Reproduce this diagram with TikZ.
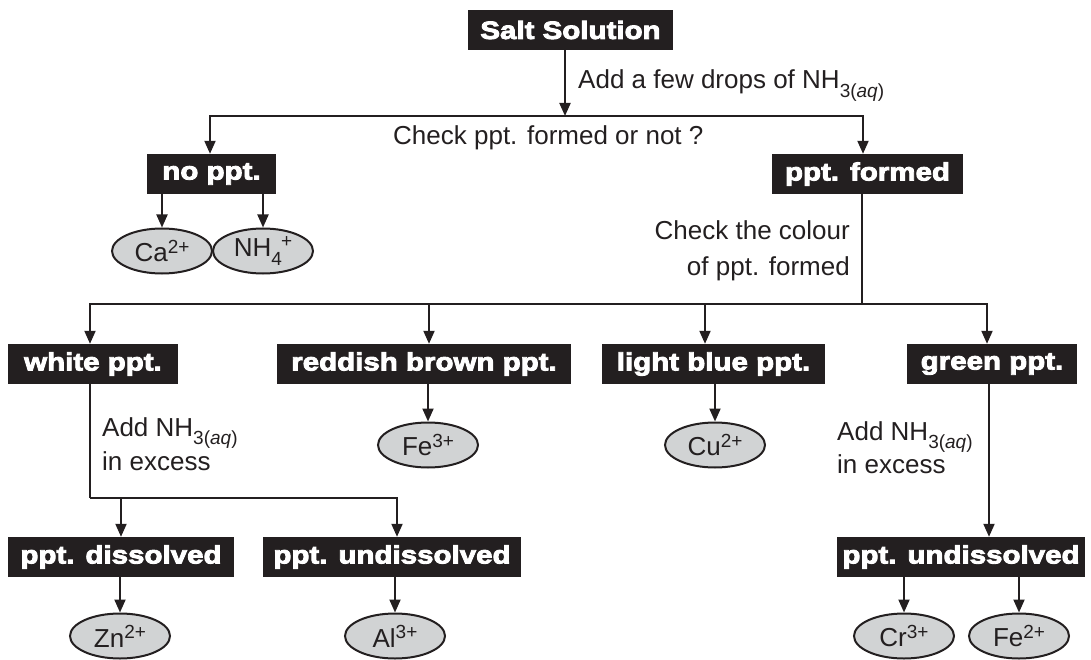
\documentclass[tikz,border=0pt]{standalone}
\usepackage{fontspec}
\setmainfont{Liberation Sans}
\newfontfamily\blackfont{Liberation Sans Bold}[FakeBold=3.5,FakeStretch=1.18]
\usetikzlibrary{arrows.meta,shapes.geometric}
\definecolor{ink}{HTML}{231F20}
\definecolor{ionfill}{HTML}{D1D3D4}
\newcommand\supx[1]{\raisebox{0.34em}{\fontsize{19}{19}\selectfont #1}}
\newcommand\subx[1]{\raisebox{-0.32em}{\fontsize{19}{19}\selectfont #1}}
\begin{document}
\begin{tikzpicture}[x=1pt,y=-1pt,
  every node/.style={text=ink},
  box/.style={fill=ink,text=white,minimum height=40pt,inner sep=0pt,
    font=\blackfont\fontsize{25}{30}\selectfont},
  ion/.style={ellipse,draw=ink,line width=2pt,fill=ionfill,minimum width=100pt,
    minimum height=45pt,inner sep=0pt,font=\fontsize{26}{30}\selectfont},
  lbl/.style={inner sep=0pt,font=\fontsize{26}{30}\selectfont},
  conn/.style={draw=ink,line width=2pt},
  arr/.style={conn,-{Triangle[width=11pt,length=13pt]}}]
\useasboundingbox (0,0) rectangle (1091,660);
% boxes
\node[box,minimum width=205pt] (salt) at (570.5,30) {Salt Solution};
\node[box,minimum width=129pt] (noppt) at (211.5,174) {no ppt.};
\node[box,minimum width=191pt] (formed) at (867.5,174) {ppt. formed};
\node[box,minimum width=170pt] (white) at (93,364) {white ppt.};
\node[box,minimum width=294pt] (reddish) at (424,364) {reddish brown ppt.};
\node[box,minimum width=223pt] (lblue) at (713.5,364) {light blue ppt.};
\node[box,minimum width=170pt] (green) at (992,364) {green ppt.};
\node[box,minimum width=226pt] (dissolved) at (121,557) {ppt. dissolved};
\node[box,minimum width=258pt] (undisA) at (392,557) {ppt. undissolved};
\node[box,minimum width=248pt] (undisB) at (961,557) {ppt. undissolved};
% ions
\node[ion] (ca) at (162,251) {Ca\supx{2+}};
\node[ion] (nh) at (263,251) {NH\subx{4}\kern-1pt\supx{+}};
\node[ion] (fe3) at (428,445) {Fe\supx{3+}};
\node[ion] (cu) at (715,445) {Cu\supx{2+}};
\node[ion] (zn) at (120,636) {Zn\supx{2+}};
\node[ion] (al) at (395,636) {Al\supx{3+}};
\node[ion] (cr) at (904,636) {Cr\supx{3+}};
\node[ion] (fe2) at (1019,636) {Fe\supx{2+}};
% labels
\node[lbl,anchor=base west] (t1) at (578,89) {Add a few drops of NH\subx{3(\textit{aq})}};
\node[lbl,anchor=base west] (t2) at (393,145) {Check ppt. formed or not ?};
\node[lbl,anchor=base east] (t3) at (850,240) {Check the colour};
\node[lbl,anchor=base east] (t4) at (850,275) {of ppt. formed};
\node[lbl,anchor=base west] (t5) at (102,436) {Add NH\subx{3(\textit{aq})}};
\node[lbl,anchor=base west] (t6) at (102,470) {in excess};
\node[lbl,anchor=base west] (t7) at (837,440) {Add NH\subx{3(\textit{aq})}};
\node[lbl,anchor=base west] (t8) at (837,473) {in excess};
% junctions
\coordinate (j1) at (565,116);
\coordinate (j2) at (862,304);
\coordinate (j3) at (90,498);
% connectors
\draw[arr] (salt.south -| j1) -- (j1);
\draw[arr] (j1) -| ([xshift=-1.5pt]noppt.north);
\draw[arr] (j1) -| ([xshift=-4.5pt]formed.north);
\draw[arr] ([xshift=-49.5pt]noppt.south) -- (ca.north);
\draw[arr] ([xshift=51.5pt]noppt.south) -- (nh.north);
\draw[conn] (formed.south -| j2) -- (j2);
\draw[arr] (j2) -| ([xshift=-3pt]white.north);
\draw[arr] (j2) -| ([xshift=5pt]reddish.north);
\draw[arr] (j2) -| ([xshift=-8.5pt]lblue.north);
\draw[arr] (j2) -| ([xshift=-5pt]green.north);
\draw[arr] (reddish.south -| fe3) -- (fe3.north);
\draw[arr] (lblue.south -| cu) -- (cu.north);
\draw[conn] (white.south -| j3) -- (j3);
\draw[arr] (j3) -| (dissolved.north);
\draw[arr] (j3) -| ([xshift=5pt]undisA.north);
\draw[arr] ([xshift=-3pt]green.south) -- ([xshift=28pt]undisB.north);
\draw[arr] (dissolved.south -| zn) -- (zn.north);
\draw[arr] (undisA.south -| al) -- (al.north);
\draw[arr] (undisB.south -| cr) -- (cr.north);
\draw[arr] (undisB.south -| fe2) -- (fe2.north);
\end{tikzpicture}
\end{document}
